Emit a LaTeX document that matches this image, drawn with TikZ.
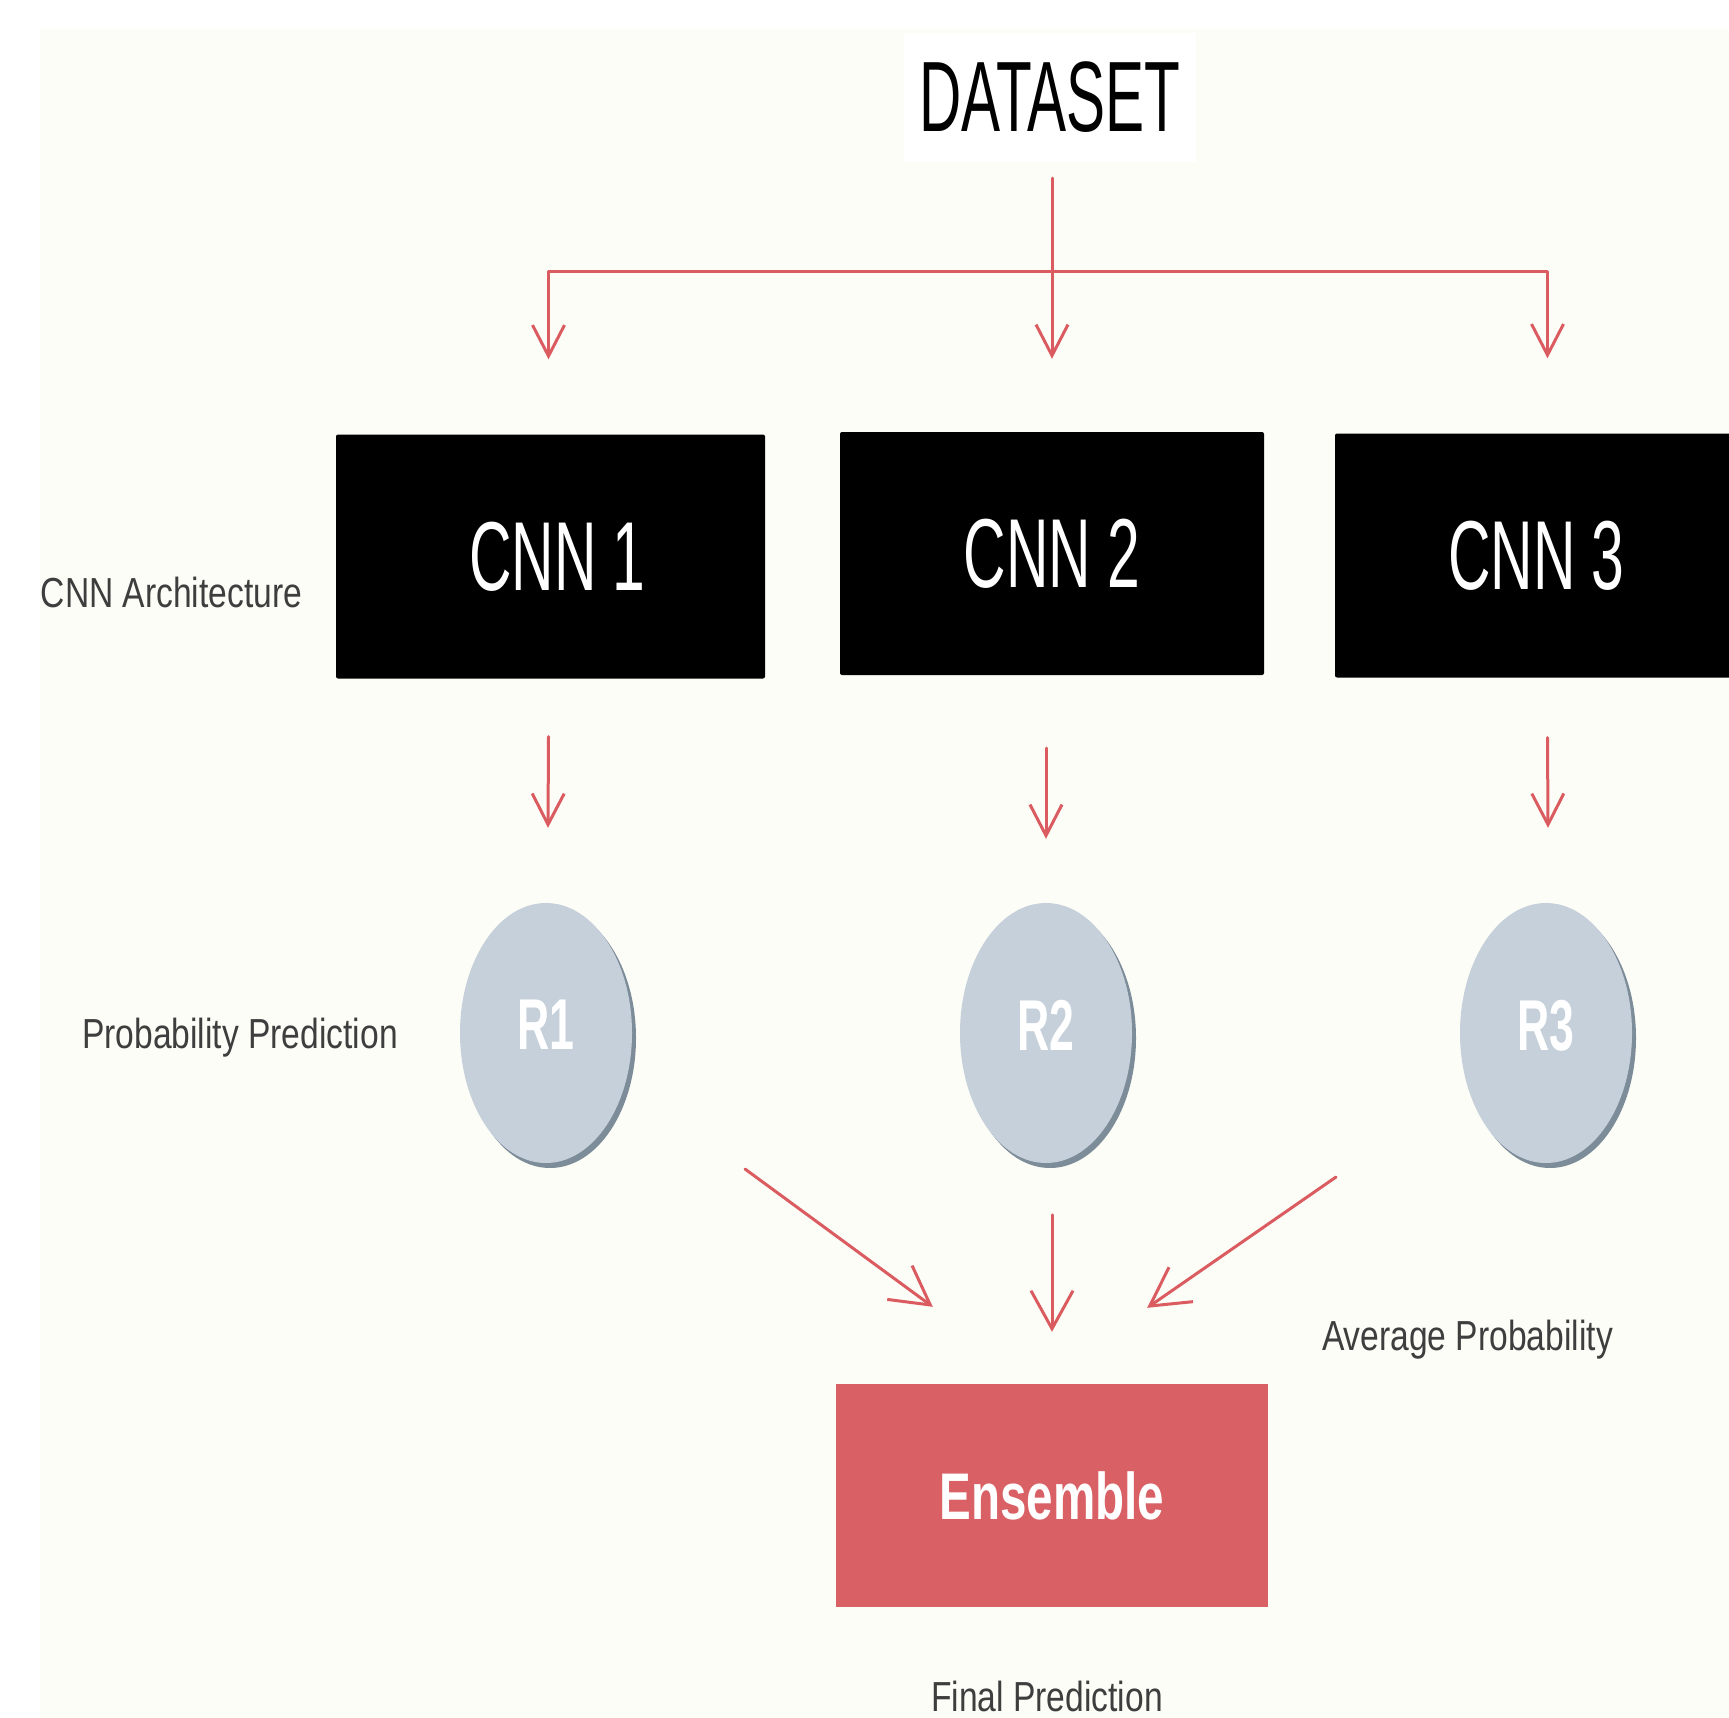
\documentclass[tikz,border=0pt]{standalone}
\usepackage{fontspec}
\usetikzlibrary{arrows.meta,shapes.geometric,shadows}
\setmainfont{Liberation Sans}
\newfontfamily\cnnfont[FakeStretch=0.6]{Liberation Sans}
\newfontfamily\titlefont[FakeStretch=0.585]{Liberation Sans}
\newfontfamily\labfont[FakeStretch=0.8]{Liberation Sans}
\newfontfamily\rfont[FakeStretch=0.62]{Liberation Sans}
\newfontfamily\ensfont[FakeStretch=0.72]{Liberation Sans}

\definecolor{bgcream}{HTML}{FDFDF7}
\definecolor{redln}{HTML}{DA5C61}
\definecolor{ensfill}{HTML}{D96064}
\definecolor{ellfill}{HTML}{C6D0DA}
\definecolor{ellshadow}{HTML}{7D8C99}
\definecolor{labtext}{HTML}{3E3E3E}

\tikzset{
  cnnbox/.style={rectangle, fill=black, rounded corners=2pt, inner sep=0pt,
    minimum width=429pt, minimum height=244pt, text=white,
    font=\cnnfont\fontsize{98}{110}\selectfont},
  resnode/.style={ellipse, fill=ellfill, inner sep=0pt, minimum width=172pt,
    minimum height=260pt, text=white, text depth=16pt,
    font=\rfont\bfseries\fontsize{72}{80}\selectfont,
    drop shadow={shadow xshift=4pt, shadow yshift=-5pt, fill=ellshadow, opacity=1}},
  sidelabel/.style={text=labtext, inner sep=0pt, anchor=base,
    font=\labfont\fontsize{42}{48}\selectfont},
  redline/.style={draw=redln, line width=3pt, line join=round, line cap=round},
  smalltip/.style={-{Straight Barb[length=31pt, width=32pt, line width=3pt]}},
  bigtip/.style={-{Straight Barb[length=38pt, width=42pt, line width=3pt]}},
}

\begin{document}
\begin{tikzpicture}[x=1pt, y=-1pt]
  \useasboundingbox (0,0) rectangle (1729,1718);
  % page and panel background
  \fill[white] (0,0) rectangle (1729,1718);
  \fill[bgcream] (40,29) rectangle (1729,1718);

  % title
  \node[fill=white, minimum width=292pt, minimum height=129pt, inner sep=0pt,
        font=\titlefont\fontsize{100}{110}\selectfont] (ds) at (1050,97.5) {DATASET};

  % the three networks
  \node[cnnbox] (cnn1) at (550.5,556.5) {\hspace*{14pt}CNN 1};
  \node[cnnbox, minimum width=424pt, minimum height=243pt] (cnn2) at (1052,553.5) {CNN 2};
  \node[cnnbox] (cnn3) at (1549.5,555.5) {CNN 3\hspace*{26pt}};

  % per-network predictions
  \node[resnode] (r1) at (546,1033) {R1};
  \node[resnode] (r2) at (1046,1033) {R2};
  \node[resnode] (r3) at (1546,1033) {R3};

  % ensemble
  \node[rectangle, fill=ensfill, minimum width=432pt, minimum height=223pt, inner sep=0pt,
        text=white, font=\ensfont\bfseries\fontsize{66}{72}\selectfont] (ens) at (1052,1495.5) {Ensemble};

  % side labels
  \node[sidelabel] (lbarch) at (171.5,607) {CNN Architecture};
  \node[sidelabel] (lbprob) at (240,1048) {Probability Prediction};
  \node[sidelabel] (lbavg) at (1467.5,1350) {Average Probability};
  \node[sidelabel] (lbfinal) at (1047,1711) {Final Prediction};

  % dataset fan-out
  \coordinate (bar) at (1052,271);
  \draw[redline, smalltip] ([yshift=-16pt]ds.south -| cnn2.north) -- ([yshift=73pt]cnn2.north);
  \draw[redline, {Straight Barb[length=31pt, width=32pt, line width=3pt]}-{Straight Barb[length=31pt, width=32pt, line width=3pt]}]
    ([xshift=-2pt, yshift=75pt]cnn1.north) -- ([xshift=-2pt]cnn1.north |- bar)
    -- ([xshift=-2pt]cnn3.north |- bar) -- ([xshift=-2pt, yshift=75pt]cnn3.north);

  % networks to predictions
  \draw[redline, smalltip] ([xshift=-2pt, yshift=-58pt]cnn1.south) -- ([xshift=2pt, yshift=75pt]r1.north);
  \draw[redline, smalltip] ([xshift=-6pt, yshift=-73pt]cnn2.south) -- ([yshift=64pt]r2.north);
  \draw[redline, smalltip] ([xshift=-2pt, yshift=-60pt]cnn3.south) -- ([xshift=2pt, yshift=75pt]r3.north);

  % predictions to ensemble
  \draw[redline, bigtip] ([xshift=199pt, yshift=-136pt]r1.center) -- ([xshift=97pt, yshift=77pt]ens.north west);
  \draw[redline, bigtip] ([yshift=169pt]ens.north) -- ([yshift=52pt]ens.north);
  \draw[redline, bigtip] ([xshift=-210pt, yshift=-144pt]r3.center) -- ([xshift=-121pt, yshift=76pt]ens.north east);
\end{tikzpicture}
\end{document}
